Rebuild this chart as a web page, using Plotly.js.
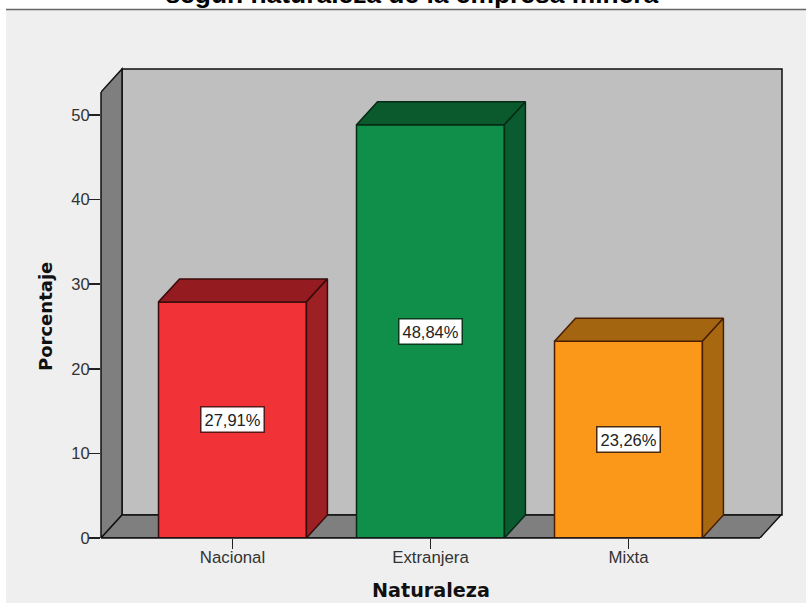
<!DOCTYPE html>
<html><head><meta charset="utf-8">
<script src="https://cdn.plot.ly/plotly-3.0.0.min.js"></script>
<style>html,body{margin:0;padding:0;background:#EFEFEF;overflow:hidden}</style>
</head><body><div id="chart"></div>
<script>
// Data
const categories = ["Nacional", "Extranjera", "Mixta"];
const values = [27.91, 48.84, 23.26];
const labels = ["27,91%", "48,84%", "23,26%"];
const yTicks = [0, 10, 20, 30, 40, 50];
const frontColors = ["#F13338", "#0F8F4A", "#FB981A"];
const topColors = ["#941C20", "#0A5A2E", "#A3650F"];
const sideColors = ["#9C2024", "#0A5C30", "#A8680F"];
const edgeColors = ["#3A0C0C", "#062A14", "#4A1E04"];
const labelEdges = ["#5A1818", "#0A3A1C", "#4A2A08"];

// Chart geometry (data units)
const W = 806, H = 603;
const m = {l: 101, r: 22, t: 67, b: 65};
const pxX = 198, pxY = 8.46;
const xMin = -0.664, xMax = xMin + (W - m.l - m.r) / pxX;
const yMax = (H - m.t - m.b) / pxY;
const barW = 0.747, dx = 21 / pxX, dy = 23 / pxY;
const xs = categories.map((_, i) => i);
const frontRight = 2.664;
const topFront = yMax - dy;

const poly = (pts) => "M" + pts.map(p => p.join(",")).join("L") + "Z";
const px = (v) => (v - m.l) / (W - m.l - m.r);
const py = (v) => 1 - (v - m.t) / (H - m.t - m.b);

const traces = [{
  type: "bar", x: xs, y: values, width: barW,
  marker: {color: frontColors, line: {color: edgeColors, width: 1.5}},
  hoverinfo: "skip", showlegend: false
}];
xs.forEach((x, i) => {
  const l = x - barW / 2, r = x + barW / 2, v = values[i];
  traces.push({
    type: "scatter", mode: "lines", fill: "toself", fillcolor: topColors[i],
    x: [l, l + dx, r + dx, r, l], y: [v, v + dy, v + dy, v, v],
    line: {color: edgeColors[i], width: 1.5}, hoverinfo: "skip", showlegend: false
  });
  traces.push({
    type: "scatter", mode: "lines", fill: "toself", fillcolor: sideColors[i],
    x: [r, r + dx, r + dx, r, r], y: [0, dy, v + dy, v, 0],
    line: {color: edgeColors[i], width: 1.5}, hoverinfo: "skip", showlegend: false
  });
});

const black = {color: "#111", width: 1.5};
const shapes = [
  {type: "rect", xref: "paper", yref: "paper", layer: "below", x0: px(-2), x1: px(W + 2), y0: py(9.5), y1: py(-2),
   fillcolor: "#FFFFFF", line: {width: 0}},
  {type: "rect", xref: "paper", yref: "paper", layer: "below", x0: px(-2), x1: px(6), y0: py(H + 2), y1: py(-2),
   fillcolor: "#FFFFFF", line: {width: 0}},
  {type: "line", xref: "paper", yref: "paper", layer: "below", x0: px(6), x1: px(W + 2), y0: py(9.5), y1: py(9.5),
   line: {color: "#666", width: 1.5}},
  {type: "rect", layer: "below", x0: xMin + dx, x1: xMax - 2 / pxX, y0: dy, y1: yMax - 2 / pxY,
   fillcolor: "#BFBFBF", line: black},
  {type: "path", layer: "below", path: poly([[xMin, 0], [xMin + dx, dy], [xMin + dx, yMax - 2 / pxY], [xMin, topFront - 2 / pxY]]),
   fillcolor: "#7F7F7F", line: black},
  {type: "path", layer: "below", path: poly([[xMin, 0], [xMin + dx, dy], [frontRight + dx, dy], [frontRight, 0]]),
   fillcolor: "#7F7F7F", line: black},
  {type: "line", xref: "x", yref: "paper", layer: "above", x0: xMin, x1: frontRight, y0: 0, y1: 0, line: black},
  {type: "line", xref: "paper", yref: "y", layer: "below", x0: 0, x1: 0, y0: 0, y1: topFront - 2 / pxY, line: black}
];

const annotations = xs.map((x, i) => ({
  x: x, y: values[i] / 2, text: labels[i], showarrow: false,
  bgcolor: "#FFFFFF", bordercolor: labelEdges[i], borderwidth: 1.5, borderpad: 3,
  font: {family: "Liberation Sans, Arial, sans-serif", size: 16.5, color: "#222"}
}));
annotations.push({
  xref: "paper", yref: "paper", x: px(431), y: py(590), xanchor: "center", yanchor: "middle",
  text: "<b>Naturaleza</b>", showarrow: false,
  font: {family: "DejaVu Sans, sans-serif", size: 19.2, color: "#111"}
});
annotations.push({
  xref: "paper", yref: "paper", x: px(45), y: py(317), xanchor: "center", yanchor: "middle",
  text: "<b>Porcentaje</b>", showarrow: false, textangle: -90,
  font: {family: "DejaVu Sans, sans-serif", size: 18, color: "#111"}
});

const layout = {
  width: W, height: H,
  margin: m,
  paper_bgcolor: "#EFEFEF", plot_bgcolor: "rgba(0,0,0,0)",
  showlegend: false,
  title: {text: "<b>según naturaleza de la empresa minera</b>", x: 0.511, xanchor: "center", y: 0.9952, yanchor: "bottom",
    font: {family: "Liberation Sans, Arial, sans-serif", size: 26.4, color: "#000"}},
  xaxis: {
    type: "linear", range: [xMin, xMax], tickmode: "array", tickvals: xs, ticktext: categories,
    ticks: "outside", ticklen: 10, tickwidth: 1.5, tickcolor: "#222", showgrid: false, zeroline: false, showline: false,
    ticklabelstandoff: -6,
    tickfont: {family: "Liberation Sans, Arial, sans-serif", size: 16.8, color: "#333"}
  },
  yaxis: {
    range: [0, yMax], tickmode: "array", tickvals: yTicks,
    ticks: "outside", ticklen: 11, tickwidth: 1.5, tickcolor: "#222", showgrid: false, zeroline: false, showline: false,
    ticklabelstandoff: -4,
    tickfont: {family: "Liberation Sans, Arial, sans-serif", size: 16.5, color: "#333"}
  },
  shapes: shapes,
  annotations: annotations
};
Plotly.newPlot("chart", traces, layout, {displayModeBar: false, staticPlot: true});
</script></body></html>
